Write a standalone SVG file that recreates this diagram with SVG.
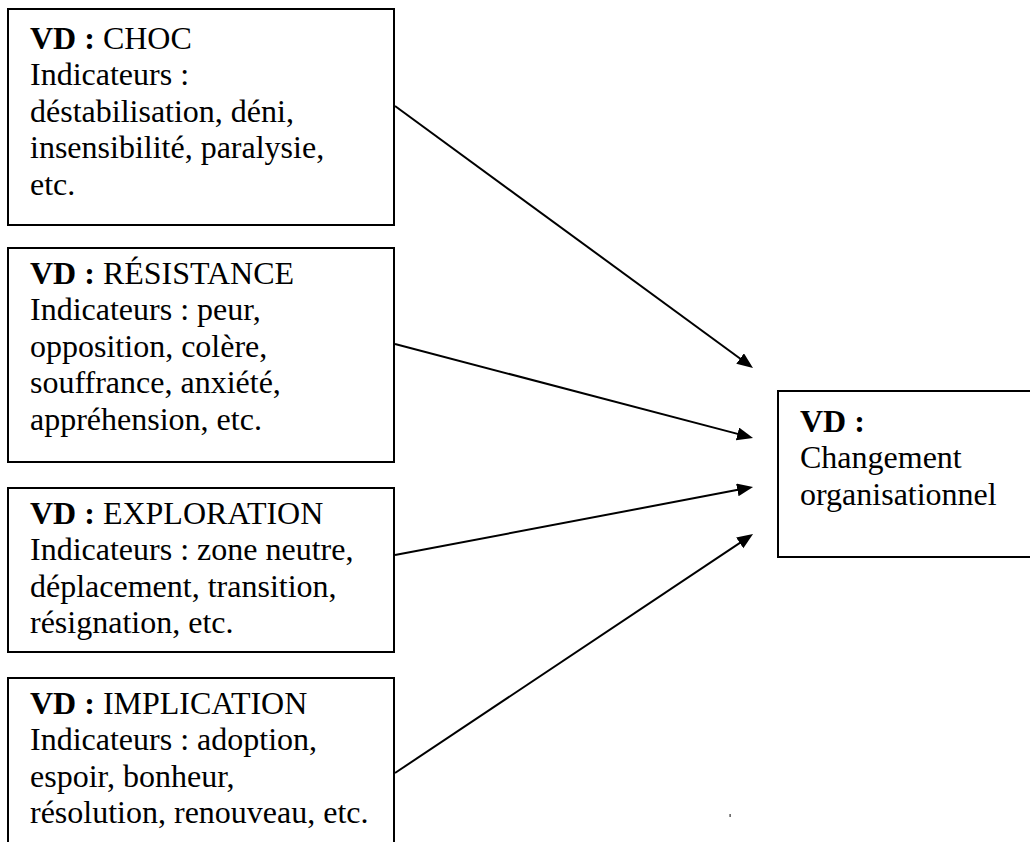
<svg xmlns="http://www.w3.org/2000/svg" width="1030" height="842" viewBox="0 0 1030 842">
  <style>
    .box { fill: #ffffff; stroke: #000000; stroke-width: 2; }
    .lbl { font-family: 'Liberation Serif', 'Times New Roman', serif; font-size: 32px; fill: #000000; }
    .b { font-weight: bold; }
    .edge { fill: none; stroke: #000000; stroke-width: 2; }
  </style>
  <defs>
    <marker id="arrow" markerUnits="userSpaceOnUse" markerWidth="18" markerHeight="14" refX="2" refY="6.5" orient="auto">
      <path d="M0,0 L16,6.5 L0,13 Z" fill="#000000"/>
    </marker>
  </defs>
  <rect width="1030" height="842" fill="#ffffff"/>

  <g id="node-choc">
    <rect class="box" x="8" y="9" width="386" height="216"/>
    <text class="lbl" x="30" y="48.5"><tspan class="b">VD :</tspan> CHOC</text>
    <text class="lbl" x="30" y="85">Indicateurs :</text>
    <text class="lbl" x="30" y="121.5">déstabilisation, déni,</text>
    <text class="lbl" x="30" y="158">insensibilité, paralysie,</text>
    <text class="lbl" x="30" y="194.5">etc.</text>
  </g>

  <g id="node-resistance">
    <rect class="box" x="8" y="248" width="386" height="214"/>
    <text class="lbl" x="30" y="283.5"><tspan class="b">VD :</tspan> RÉSISTANCE</text>
    <text class="lbl" x="30" y="320">Indicateurs : peur,</text>
    <text class="lbl" x="30" y="356.5">opposition, colère,</text>
    <text class="lbl" x="30" y="393">souffrance, anxiété,</text>
    <text class="lbl" x="30" y="429.5">appréhension, etc.</text>
  </g>

  <g id="node-exploration">
    <rect class="box" x="8" y="488" width="386" height="164"/>
    <text class="lbl" x="30" y="523.5"><tspan class="b">VD :</tspan> EXPLORATION</text>
    <text class="lbl" x="30" y="560">Indicateurs : zone neutre,</text>
    <text class="lbl" x="30" y="596.5">déplacement, transition,</text>
    <text class="lbl" x="30" y="633">résignation, etc.</text>
  </g>

  <g id="node-implication">
    <rect class="box" x="8" y="678" width="386" height="180"/>
    <text class="lbl" x="30" y="713.5"><tspan class="b">VD :</tspan> IMPLICATION</text>
    <text class="lbl" x="30" y="750">Indicateurs : adoption,</text>
    <text class="lbl" x="30" y="786.5">espoir, bonheur,</text>
    <text class="lbl" x="30" y="823">résolution, renouveau, etc.</text>
  </g>

  <g id="node-changement">
    <rect class="box" x="778" y="391" width="260" height="166"/>
    <text class="lbl" x="800" y="431.5"><tspan class="b">VD :</tspan></text>
    <text class="lbl" x="800" y="468">Changement</text>
    <text class="lbl" x="800" y="504.5">organisationnel</text>
  </g>

  <g id="connectors">
    <path class="edge" d="M395,106 L741.7,359.7" marker-end="url(#arrow)"/>
    <path class="edge" d="M395,344 L739.5,434.4" marker-end="url(#arrow)"/>
    <path class="edge" d="M395,555 L739.3,489.6" marker-end="url(#arrow)"/>
    <path class="edge" d="M395,773 L741.4,541.8" marker-end="url(#arrow)"/>
  </g>

  <!-- small speck below the target box -->
  <rect x="729.5" y="814" width="1.2" height="3" fill="#333333"/>
</svg>
